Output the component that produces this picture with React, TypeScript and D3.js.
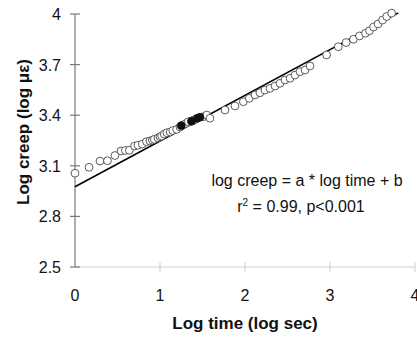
import React from "react";
import * as d3 from "d3";

const xTicks = [0, 1, 2, 3, 4];
const yTicks = [2.5, 2.8, 3.1, 3.4, 3.7, 4];
const yTickLabels = ["2.5", "2.8", "3.1", "3.4", "3.7", "4"];

const openX = [0.0, 0.165, 0.294, 0.382, 0.47, 0.541, 0.592, 0.639, 0.7, 0.741, 0.792, 0.841, 0.882, 0.91, 0.933, 0.976, 1.0, 1.02, 1.05, 1.08, 1.12, 1.15, 1.196, 1.235, 1.27, 1.306, 1.333, 1.376, 1.4, 1.42, 1.51, 1.55, 1.588, 1.765, 1.882, 1.98, 2.05, 2.118, 2.176, 2.235, 2.294, 2.353, 2.412, 2.47, 2.53, 2.588, 2.647, 2.706, 2.765, 2.96, 3.098, 3.19, 3.276, 3.347, 3.418, 3.465, 3.512, 3.565, 3.618, 3.667, 3.725];
const openY = [3.056, 3.091, 3.128, 3.13, 3.161, 3.188, 3.191, 3.192, 3.217, 3.222, 3.229, 3.243, 3.247, 3.252, 3.257, 3.265, 3.272, 3.277, 3.288, 3.296, 3.3, 3.309, 3.316, 3.33, 3.342, 3.351, 3.361, 3.366, 3.372, 3.377, 3.391, 3.401, 3.382, 3.431, 3.455, 3.48, 3.5, 3.52, 3.533, 3.549, 3.559, 3.573, 3.589, 3.609, 3.619, 3.638, 3.658, 3.668, 3.692, 3.757, 3.806, 3.831, 3.85, 3.87, 3.886, 3.901, 3.923, 3.941, 3.964, 3.985, 4.005];

const filledX = [1.25, 1.37, 1.44, 1.47];
const filledY = [3.338, 3.364, 3.382, 3.388];

const fitA = 0.271;
const fitB = 2.976;
const fitRange = [0, 3.804];

export default function App() {
  const x = d3.scaleLinear().domain([0, 4]).range([75, 415]);
  const y = d3.scaleLinear().domain([2.5, 4]).range([267, 14]);
  const line = d3
    .line<number>()
    .x((d) => x(d))
    .y((d) => y(fitA * d + fitB));

  const font = "Arial, 'Liberation Sans', sans-serif";

  return (
    <svg
      width={417}
      height={341}
      style={{ position: "absolute", left: 0, top: 0, background: "#fff" }}
      fontFamily={font}
    >
      {/* x axis */}
      <line x1={x(0)} x2={x(4)} y1={y(2.5)} y2={y(2.5)} stroke="#cfcfcf" strokeWidth={1.2} />
      {xTicks.slice(1).map((t) => (
        <line key={"xt" + t} x1={x(t)} x2={x(t)} y1={y(2.5) - 5} y2={y(2.5) + 5} stroke="#cfcfcf" strokeWidth={1} />
      ))}
      {xTicks.map((t) => (
        <text key={"xl" + t} x={x(t)} y={301} textAnchor="middle" fontSize={16} fill="#111">
          {t}
        </text>
      ))}
      {/* y axis */}
      <line x1={x(0)} x2={x(0)} y1={y(2.5)} y2={y(4)} stroke="#7a7a7a" strokeWidth={1.2} />
      {yTicks.map((t, i) => (
        <g key={"yt" + t}>
          <line x1={x(0) - 5} x2={x(0) + 5} y1={y(t)} y2={y(t)} stroke="#7a7a7a" strokeWidth={1.2} />
          <text x={61} y={y(t) + 6} textAnchor="end" fontSize={16} fill="#111">
            {yTickLabels[i]}
          </text>
        </g>
      ))}
      {/* fit line */}
      <path d={line(fitRange) || ""} stroke="#000" strokeWidth={1.6} fill="none" />
      {/* points */}
      {openX.map((v, i) => (
        <circle key={"o" + i} cx={x(v)} cy={y(openY[i])} r={3.9} fill="#fff" stroke="#333" strokeWidth={0.8} />
      ))}
      {filledX.map((v, i) => (
        <circle key={"f" + i} cx={x(v)} cy={y(filledY[i])} r={3.9} fill="#111" stroke="#111" strokeWidth={0.8} />
      ))}
      {/* annotation */}
      <text x={307} y={186} textAnchor="middle" fontSize={16} fill="#111">
        log creep = a * log time + b
      </text>
      <text x={301} y={212} textAnchor="middle" fontSize={16} fill="#111">
        r<tspan dy={-6} fontSize={10}>2</tspan>
        <tspan dy={6}> = 0.99, p&lt;0.001</tspan>
      </text>
      {/* axis titles */}
      <text x={245} y={329} textAnchor="middle" fontSize={17} fontWeight="bold" fill="#111">
        Log time (log sec)
      </text>
      <text
        transform={`translate(29,132) rotate(-90)`}
        textAnchor="middle"
        fontSize={17}
        fontWeight="bold"
        fill="#111"
      >
        Log creep (log με)
      </text>
    </svg>
  );
}
